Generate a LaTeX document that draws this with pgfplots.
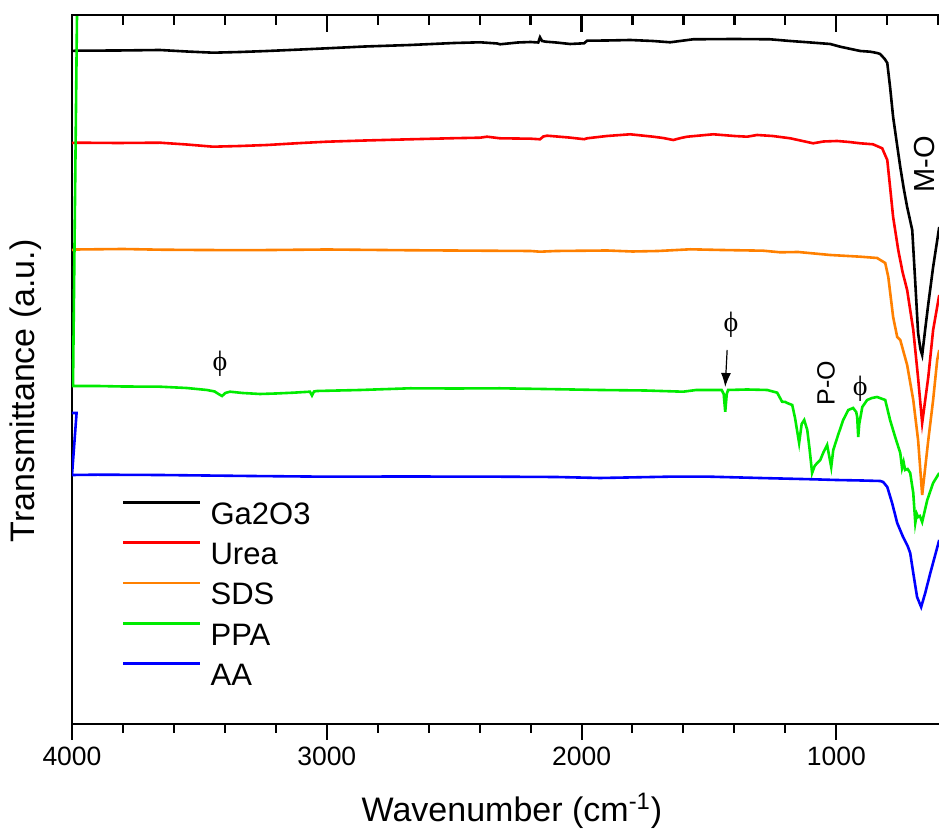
\documentclass[border=0pt]{standalone}
\usepackage{fontspec}
\setmainfont{Liberation Sans}
\newfontfamily\phifont{Liberation Serif}
\usepackage{pgfplots}
\pgfplotsset{compat=1.18}
\usetikzlibrary{arrows.meta,calc}
\definecolor{cRed}{RGB}{255,0,0}
\definecolor{cOrange}{RGB}{255,128,0}
\definecolor{cGreen}{RGB}{0,235,0}
\definecolor{cBlue}{RGB}{0,0,255}
\newcommand{\phisym}{{\phifont\fontsize{14}{16}\selectfont ϕ}}
\begin{document}
\begin{tikzpicture}
\useasboundingbox (-36pt,-55.5pt) rectangle (433.5pt,362pt);
\begin{axis}[name=main,
  at={(0,0)}, anchor=south west,
  scale only axis, width=433.5pt, height=354.5pt,
  xmin=597, xmax=4000, ymin=0, ymax=709, x dir=reverse,
  axis x line*=bottom, axis y line*=left,
  axis line style={-, line width=1pt},
  xtick={1000,2000,3000,4000}, minor x tick num=4,
  ytick=\empty,
  tick align=outside,
  major tick length=8pt, minor tick length=4.5pt,
  every tick/.style={line width=1pt, black},
  xticklabel style={font=\fontsize{13.25}{15}\selectfont},
  /pgf/number format/1000 sep={},
  /pgf/number format/assume math mode=true,
  xlabel={Wavenumber (cm\textsuperscript{-1})},
  ylabel={Transmittance (a.u.)},
  label style={font=\fontsize{17}{20}\selectfont},
  xlabel style={at={(axis description cs:0.5075,-0.1378)}, anchor=base},
  ylabel style={at={(axis description cs:-0.0431,0.47)}, anchor=base},
  every axis plot/.append style={line width=1.3pt, no markers},
  legend image code/.code={\draw[#1] (0pt,5.5pt) -- (38.5pt,5.5pt);},
  legend cell align=left,
  legend style={at={(axis description cs:0.0577,0.3145)}, anchor=north west,
    draw=none, fill=none, inner sep=0pt, outer sep=0pt,
    row sep=8.5pt, column sep=4.5pt,
    font=\fontsize{15.5}{18}\selectfont,
    nodes={inner sep=0pt, text height=11pt, text depth=0pt}},
]
% Ga2O3
\addplot[black] coordinates {
(4000,673) (3984,673.3) (3820,673.5) (3655,674) (3550,672.5) (3446,671.3) (3340,672) (3234,673) (3100,674.5) (2999,675.7) (2850,677.5) (2673,679) (2500,681) (2398,681.7) (2331,680.5) (2320,679.7) (2250,681.5) (2200,682) (2170,681.5) (2163,686.7) (2155,683) (2140,682.3) (2100,681.5) (2045,680) (1990,680.7) (1978,683.3) (1900,683.5) (1809,684) (1720,683) (1652,681.7) (1562,684.7) (1400,685) (1260,684.7) (1181,683) (1100,681.5) (1024,680) (985,677.3) (906,673) (867,672.3) (840,671) (828,670) (810,665) (800,661) (789,637) (777,607) (762,580) (749,557) (735,535) (722,517) (702,494) (690,441) (679,391) (670,375) (663,369) (651,395) (639,420) (620,457) (596,497)
};
\addlegendentry{Ga2O3}
% Urea
\addplot[cRed] coordinates {
(4000,581) (3984,581.3) (3820,581) (3655,581.3) (3550,579.5) (3446,577.3) (3340,578) (3234,579) (3100,581) (2999,582.3) (2850,583.5) (2673,584.7) (2500,585.8) (2398,586.3) (2371,587.3) (2320,585.7) (2200,585.3) (2163,584.7) (2150,587.5) (2135,588.3) (2050,586.5) (1990,584.8) (1978,585.7) (1900,588) (1809,589.7) (1719,587.3) (1680,586) (1640,584) (1610,586) (1585,587.3) (1483,589.7) (1400,588) (1350,587.3) (1311,589) (1250,588) (1181,585.7) (1091,580.7) (1050,582.5) (997,583) (950,582) (906,580.7) (856,579.7) (820,575.7) (800,564) (789,537) (777,507) (757,474) (740,452) (722,434) (698,394) (679,346) (663,301) (639,347) (620,394) (596,429)
};
\addlegendentry{Urea}
% SDS
\addplot[cOrange] coordinates {
(4000,474) (3984,474.5) (3800,475) (3655,474.3) (3500,474) (3300,473.8) (3000,474.5) (2700,473.8) (2398,473.3) (2200,473) (2163,472.3) (2100,473) (1900,473.5) (1800,472.5) (1700,473) (1573,474.7) (1450,474) (1287,473.3) (1220,471.7) (1150,472) (1024,469) (906,467.3) (840,466) (808,461) (796,447) (777,407) (761,387) (749,384) (722,359) (698,324) (679,284) (663,229) (639,284) (620,324) (604,364) (596,374)
};
\addlegendentry{SDS}
% PPA
\addplot[cGreen] coordinates {
(3979,740) (3996,338) (3900,338) (3800,337.5) (3655,337.3) (3550,336) (3470,334) (3440,332.5) (3425,330) (3411,328) (3398,331) (3380,332.3) (3330,331) (3262,330) (3200,330.5) (3132,331.3) (3066,332.3) (3058,328.5) (3050,332.5) (3038,333) (2869,334) (2673,335.7) (2500,335.5) (2320,335.7) (2150,335) (1927,334) (1750,333.5) (1601,332.3) (1550,334) (1495,334) (1450,334) (1442,330) (1436,312.3) (1430,330) (1425,334) (1350,334.5) (1271,334) (1232,331.3) (1213,322.3) (1200,322) (1193,321) (1173,319) (1162,306) (1146,281) (1136,300) (1126,304) (1114,294) (1105,275) (1095,251) (1085,258) (1075,261) (1063,264) (1050,272) (1036,279) (1028,268) (1020,257) (1012,274) (993,289) (973,304) (953,314) (934,316) (922,312) (918,307) (914,287) (910,300) (898,317) (879,324) (860,326) (840,327) (808,324) (789,304) (769,287) (749,271) (742,256) (736,262) (730,254) (720,255) (710,251) (698,231) (690,201) (684,210) (679,207) (672,208) (663,202) (643,224) (620,241) (596,251)
};
\addlegendentry{PPA}
% AA
\addplot[cBlue] coordinates {
(4000,311) (3982,311) (4000,249) (3900,249.3) (3655,249) (3300,248) (2999,247.3) (2700,247.5) (2320,247.3) (2100,247) (1927,246) (1660,247.3) (1495,247.3) (1300,246) (1091,244.7) (1000,244) (900,243.5) (828,243) (816,242) (800,237) (781,221) (761,201) (738,187) (720,178) (710,171) (698,151) (683,127) (667,117) (651,131) (631,151) (596,184)
};
\addlegendentry{AA}
% annotations
\node at (axis cs:3419,360) {\phisym};
\node at (axis cs:1413,399) {\phisym};
\draw[line width=0.6pt, -{Latex[length=7pt,width=5pt]}] (axis cs:1428.5,374) -- (axis cs:1436,337);
\node[rotate=90, font=\fontsize{12.5}{14}\selectfont] at (axis cs:1040,341) {P-O};
\node at (axis cs:906,335) {\phisym};
\node[rotate=90, font=\fontsize{14.5}{17}\selectfont] at (axis cs:655,560) {M-O};
\end{axis}
% top frame line with inward ticks
\draw[line width=1.4pt] ($(main.north west)+(-0.5pt,0pt)$) -- (main.north east);
\foreach \w in {600,800,1200,1400,1600,1800,2200,2400,2600,2800,3200,3400,3600,3800} {
  \pgfmathsetmacro\f{(4000-\w)/3403}
  \draw[line width=1.1pt] ($(main.north west)!\f!(main.north east)$) -- ++(0pt,-5pt);
}
\foreach \w in {1000,2000,3000} {
  \pgfmathsetmacro\f{(4000-\w)/3403}
  \draw[line width=1.1pt] ($(main.north west)!\f!(main.north east)$) -- ++(0pt,-8.5pt);
}
\end{tikzpicture}
\end{document}
